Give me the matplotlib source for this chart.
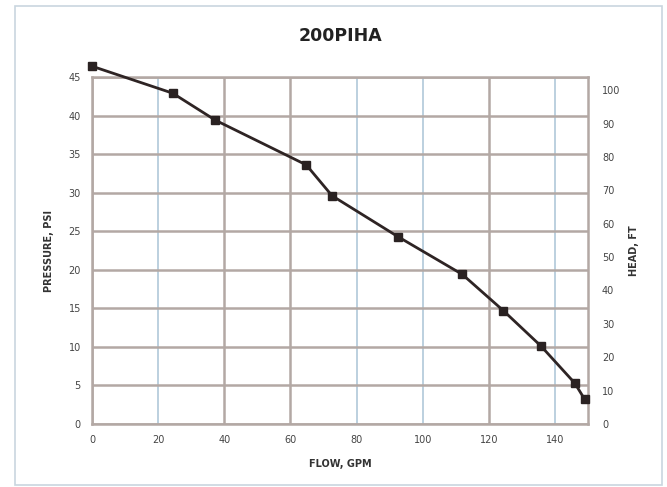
import matplotlib
matplotlib.use("Agg")
import matplotlib.pyplot as plt
from matplotlib.patches import Rectangle

title = "200PIHA"
flow_gpm = [0, 24.4, 37.3, 64.8, 72.6, 92.5, 112.0, 124.4, 135.8, 146.0, 149.0]
pressure_psi = [46.4, 42.9, 39.4, 33.6, 29.6, 24.3, 19.4, 14.7, 10.1, 5.3, 3.2]
x_ticks = [0, 20, 40, 60, 80, 100, 120, 140]
y_ticks = [0, 5, 10, 15, 20, 25, 30, 35, 40, 45]
head_ticks = [0, 10, 20, 30, 40, 50, 60, 70, 80, 90, 100]
FT_PER_PSI = 2.31

fig = plt.figure(figsize=(6.67, 4.87), dpi=100)
fig.patch.set_facecolor("white")
fig.patches.append(Rectangle((15/667, 1-485/487), (662-15)/667, (485-6)/487,
                             transform=fig.transFigure, fill=False,
                             edgecolor="#c9d6df", linewidth=1.2))

ax = fig.add_axes([92/667, 1-424/487, (588-92)/667, (424-77)/487])
ax.set_xlim(0, 150)
ax.set_ylim(0, 45)
ax.set_xticks(x_ticks)
ax.set_yticks(y_ticks)
grid_col = "#b3a8a4"
ax.grid(True, color=grid_col, linewidth=1.8)
for i, gl in enumerate(ax.get_xgridlines()):
    if x_ticks[i] in (20, 80, 100, 140):
        gl.set_color("#a9c4d6")
        gl.set_linewidth(1.1)
ax.set_axisbelow(True)
for s in ax.spines.values():
    s.set_color(grid_col)
    s.set_linewidth(1.8)
ax.tick_params(length=0, labelsize=7, colors="#444444", pad=8)

ax.plot(flow_gpm, pressure_psi, color="#2e2424", linewidth=2.0,
        marker="s", markersize=6, markerfacecolor="#2a2222",
        markeredgecolor="#2a2222", clip_on=False, zorder=5)

ax2 = ax.twinx()
ax2.set_ylim(0, 45 * FT_PER_PSI)
ax2.set_yticks(head_ticks)
for s in ax2.spines.values():
    s.set_visible(False)
ax2.tick_params(length=0, labelsize=7, colors="#444444", pad=10)

ax.set_xlabel("FLOW, GPM", fontsize=7, fontweight="bold", color="#333333", labelpad=10)
ax.set_ylabel("PRESSURE, PSI", fontsize=7, fontweight="bold", color="#333333", labelpad=10)
ax2.set_ylabel("HEAD, FT", fontsize=7, fontweight="bold", color="#333333",
               rotation=90, labelpad=6)
fig.text(340/667, 1-36/487, title, fontsize=12.5, fontweight="bold",
         color="#222222", ha="center", va="center")

fig.savefig("out.png", dpi=100)
